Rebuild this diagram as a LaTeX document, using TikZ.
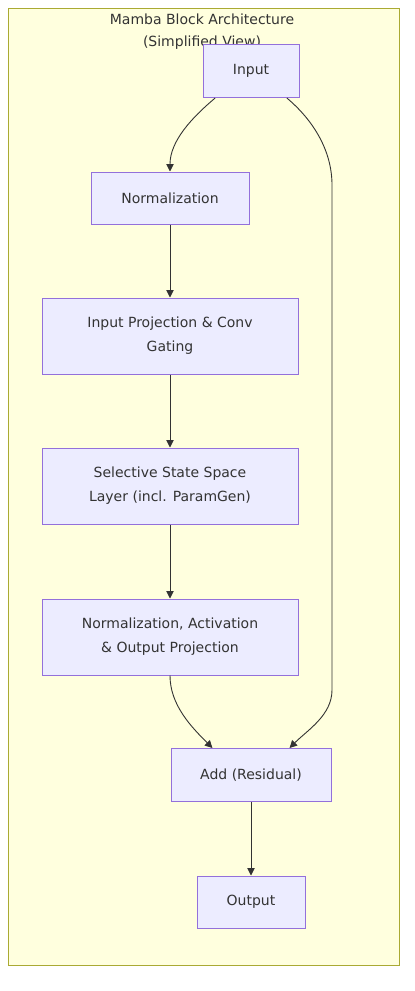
\documentclass[tikz,border=0pt]{standalone}
\usepackage{fontspec}
\setmainfont{DejaVu Sans}
\usepackage{tikz}
\usetikzlibrary{arrows.meta}
\definecolor{clusterfill}{HTML}{FFFFDE}
\definecolor{clusterline}{HTML}{AAAA33}
\definecolor{boxfill}{HTML}{ECECFF}
\definecolor{boxline}{HTML}{9370DB}
\definecolor{ink}{HTML}{333333}
\begin{document}
\begin{tikzpicture}[x=1pt,y=-1pt,
	font=\fontsize{14}{24}\selectfont,
	box/.style={draw=boxline,fill=boxfill,line width=1pt,text=ink,align=center,inner sep=0pt},
	flow/.style={draw=ink,line width=0.9pt,-{Triangle[length=7.5pt,width=7.5pt]}}]
	\useasboundingbox (0,0) rectangle (415,991);
	\draw[clusterline,fill=clusterfill,line width=1pt] (8,8) rectangle (399,965);
	\node[text=ink,align=center,font=\fontsize{14}{22}\selectfont] (title) at (202,32) {Mamba Block Architecture\\(Simplified View)};
	\node[box,minimum width=96,minimum height=53] (input) at (251,71) {Input};
	\node[box,minimum width=158,minimum height=52] (norm) at (170,198) {Normalization};
	\node[box,minimum width=256,minimum height=76] (proj) at (170,336) {Input Projection \& Conv\\Gating};
	\node[box,minimum width=256,minimum height=76] (ssm) at (170,486) {Selective State Space\\Layer (incl. ParamGen)};
	\node[box,minimum width=256,minimum height=76] (normact) at (170,637) {Normalization, Activation\\\& Output Projection};
	\node[box,minimum width=160,minimum height=53] (add) at (251,775) {Add (Residual)};
	\node[box,minimum width=108,minimum height=52] (output) at (251,902) {Output};
	\coordinate (skiptop) at (332,185);
	\coordinate (skipbot) at (332,690);
	
	\path
	(input.217) edge[flow,out=-140,in=90,looseness=0.9] (norm.north)
	(norm) edge[flow] (proj)
	(proj) edge[flow] (ssm)
	(ssm) edge[flow] (normact)
	(normact.south) edge[flow,out=-90,in=135,looseness=0.9] (add.145)
	(add) edge[flow] (output);
	\draw [flow] (input.323) to[out=-40,in=90,looseness=0.9] (skiptop) -- (skipbot) to[out=-90,in=45,looseness=0.9] (add.35);
\end{tikzpicture}
\end{document}
